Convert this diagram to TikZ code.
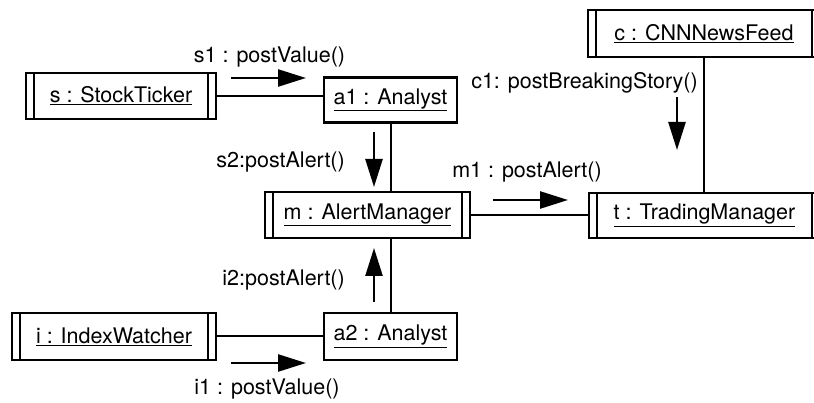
\documentclass[tikz,border=0pt]{standalone}
\usepackage{fontspec}
\setmainfont{TeX Gyre Heros}
\usetikzlibrary{arrows.meta,positioning,calc}
\newcommand{\objfont}{\fontsize{21.5}{25}\selectfont}
\newcommand{\msgfont}{\fontsize{21.5}{25}\selectfont}
\tikzset{
  objbox/.style={draw,line width=2.4pt,inner sep=0pt,minimum height=46pt,font=\objfont},
  activebox/.style={objbox,path picture={
    \draw[line width=1.5pt]
      ([xshift=8pt]path picture bounding box.north west) -- ([xshift=8pt]path picture bounding box.south west)
      ([xshift=-8pt]path picture bounding box.north east) -- ([xshift=-8pt]path picture bounding box.south east);
  }},
  link/.style={line width=2pt},
  msgflow/.style={-{Triangle[length=28pt,width=17pt]},line width=2.5pt},
  msglabel/.style={font=\msgfont,inner sep=0pt}
}
\begin{document}
\begin{tikzpicture}[x=1pt,y=-1pt]
  \useasboundingbox (0,0) rectangle (814,403);
  \node[activebox,minimum width=190pt] (s) at (121,96) {\underline{s : StockTicker}};
  \node[objbox,minimum width=133pt,minimum height=45pt] (a1) at (390.5,100) {\underline{a1 : Analyst}};
  \node[activebox,minimum width=232pt,minimum height=47pt] (c) at (704,33.5) {\underline{c : CNNNewsFeed}};
  \node[activebox,minimum width=205pt] (m) at (367.5,215) {\underline{m : AlertManager}};
  \node[activebox,minimum width=231pt,minimum height=45pt] (t) at (704.5,215.5) {\underline{t : TradingManager}};
  \node[activebox,minimum width=204pt,minimum height=47pt] (i) at (114,336.5) {\underline{i : IndexWatcher}};
  \node[objbox,minimum width=133pt,minimum height=47pt] (a2) at (390.5,336.5) {\underline{a2 : Analyst}};
  \draw[link] (s.east) -- (s.east -| a1.west);
  \draw[link] (a1.south) -- (a1.south |- m.north);
  \draw[link] (m.east) -- (m.east -| t.west);
  \draw[link] (c.south) -- (c.south |- t.north);
  \draw[link] (a2.north) -- (a2.north |- m.south);
  \draw[link] (i.east) -- (i.east -| a2.west);
  \node[msglabel,anchor=base] (s1lbl) at (269.5,63) {s1 : postValue()};
  \node[msglabel,anchor=base east] (c1lbl) at (698,89) {c1: postBreakingStory()};
  \node[msglabel,anchor=base east] (s2lbl) at (345,168) {s2:postAlert()};
  \node[msglabel,anchor=base] (m1lbl) at (527,178) {m1 : postAlert()};
  \node[msglabel,anchor=base east] (i2lbl) at (345,286) {i2:postAlert()};
  \node[msglabel,anchor=base] (i1lbl) at (267,394) {i1 : postValue()};
  \coordinate (s1from) at (231,78);
  \coordinate (s1to) at (306,78);
  \coordinate (c1from) at (677,97);
  \coordinate (c1to) at (677,150);
  \coordinate (s2from) at (374,132);
  \coordinate (s2to) at (374,187);
  \coordinate (m1from) at (493,200);
  \coordinate (m1to) at (568,200);
  \coordinate (i2from) at (374,302);
  \coordinate (i2to) at (374,248);
  \coordinate (i1from) at (231,363);
  \coordinate (i1to) at (306,363);
  \draw[msgflow] (s1from) -- (s1to);
  \draw[msgflow] (c1from) -- (c1to);
  \draw[msgflow] (s2from) -- (s2to);
  \draw[msgflow] (m1from) -- (m1to);
  \draw[msgflow] (i2from) -- (i2to);
  \draw[msgflow] (i1from) -- (i1to);
\end{tikzpicture}
\end{document}
